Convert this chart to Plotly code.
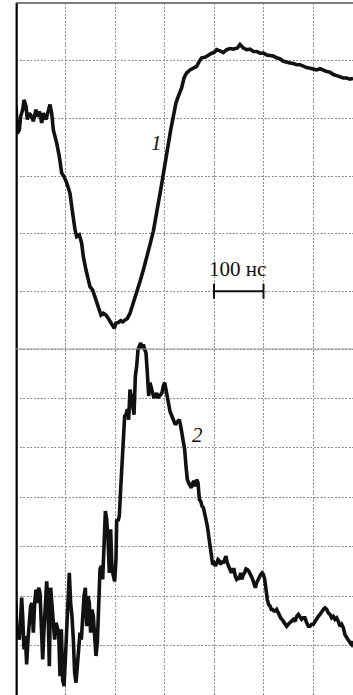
import plotly.graph_objects as go

# Time axis in ns; vertical values in screen divisions
t1 = [0, 2.7, 6.7, 9.4, 13.5, 16.2, 20.2, 22.9, 26.9, 31.6, 35.0, 40.4, 43.1, 47.1, 51.9, 55.2,
      60.6, 65.3, 68.7, 72.1, 75.4, 82.2, 87.5, 92.3, 97.0, 102.4, 105.7, 109.1, 112.5, 115.8,
      119.2, 122.6, 127.9, 132.7, 136.0, 141.4, 146.1, 149.5, 154.9, 159.6, 163.0, 167.7, 171.7,
      176.4, 181.8, 186.5, 191.2, 195.3, 198.7, 202.0, 206.7, 211.4, 215.5, 220.2, 224.9, 230.3,
      235.7, 240.4, 245.1, 250.5, 257.2, 264.0, 270.7, 277.4, 282.8, 287.5, 292.3, 297.6, 302.4,
      307.7, 312.5, 317.8, 323.2, 327.9, 334.7, 339.4, 344.8, 351.5, 359.6, 365.0, 370.4, 375.1,
      381.8, 388.6, 395.3, 400.0, 405.4, 412.1, 418.8, 425.6, 432.3, 439.1, 447.1, 452.5, 459.3,
      466.0, 472.7, 479.5, 486.2, 492.9, 499.7, 506.4, 513.1, 519.9, 526.6, 533.3, 540.1, 546.8,
      553.6, 560.3, 567.0, 573.8, 580.5, 587.2, 594.0, 600.7, 607.5, 614.2, 620.9, 627.7, 634.4,
      641.1, 647.9, 654.6, 661.3, 668.1, 674.8, 680.8]
v1 = [4.21, 3.74, 3.80, 4.03, 4.15, 4.32, 4.21, 3.98, 4.09, 4.03, 3.95, 4.15, 4.03, 4.12, 3.92, 4.09,
      3.98, 4.15, 4.24, 4.09, 3.80, 3.57, 3.34, 3.05, 2.99, 2.88, 2.76, 2.70, 2.47, 2.24,
      2.07, 1.95, 1.98, 1.83, 1.60, 1.37, 1.20, 1.08, 1.02, 0.91, 0.79, 0.68, 0.59,
      0.62, 0.59, 0.53, 0.47, 0.42, 0.36, 0.45, 0.46, 0.49, 0.47, 0.50, 0.53, 0.62,
      0.76, 0.88, 1.02, 1.17, 1.37, 1.57, 1.81, 2.04, 2.27, 2.53, 2.76, 3.05, 3.34,
      3.57, 3.80, 4.03, 4.27, 4.38, 4.53, 4.70, 4.79, 4.84, 4.87, 4.90, 4.99, 5.05,
      5.06, 5.10, 5.13, 5.14, 5.19, 5.17, 5.14, 5.19, 5.21, 5.20, 5.22, 5.28, 5.22,
      5.19, 5.20, 5.16, 5.16, 5.13, 5.13, 5.10, 5.09, 5.08, 5.05, 5.03, 4.99, 4.97,
      4.96, 4.95, 4.93, 4.93, 4.90, 4.88, 4.87, 4.86, 4.84, 4.86, 4.83, 4.81, 4.80,
      4.76, 4.74, 4.72, 4.70, 4.70, 4.68, 4.69]

t2 = [0, 1.3, 4.7, 6.7, 9.4, 11.4, 13.5, 16.2, 18.9, 21.5, 24.2, 26.9, 29.6, 32.3, 35.0, 37.7,
      40.4, 43.1, 45.8, 48.5, 51.2, 53.9, 56.6, 59.3, 62.0, 64.6, 67.3, 70.0, 72.7, 75.4, 78.1,
      80.8, 83.5, 86.2, 88.9, 91.6, 94.3, 97.0, 99.7, 102.4, 105.1, 107.7, 110.4, 113.1, 115.8,
      118.5, 121.2, 123.9, 126.6, 129.3, 132.0, 134.7, 137.4, 140.1, 142.8, 145.5, 148.1, 150.8,
      153.5, 156.2, 158.9, 161.6, 164.3, 167.0, 169.7, 172.4, 175.1, 177.8, 180.5, 183.2, 185.9,
      188.6, 191.2, 193.9, 196.6, 199.3, 202.0, 203.4, 206.1, 208.7, 211.4, 214.1, 216.8, 219.5,
      222.2, 224.9, 227.6, 230.3, 233.0, 235.7, 238.4, 241.1, 243.8, 246.5, 249.2, 251.9, 254.5,
      257.2, 259.9, 262.6, 265.3, 268.0, 270.7, 273.4, 276.1, 278.8, 281.5, 284.2, 286.9, 289.6,
      292.3, 294.9, 297.6, 300.3, 303.0, 305.7, 308.4, 311.1, 313.8, 316.5, 319.2, 321.9, 324.6,
      327.3, 330.0, 332.7, 335.3, 338.0, 340.7, 343.4, 346.1, 348.8, 351.5, 354.2, 356.9, 359.6,
      362.3, 365.0, 367.7, 370.4, 373.1, 375.8, 378.5, 381.2, 383.8, 386.5, 389.2, 391.9, 394.6,
      397.3, 400.0, 402.7, 405.4, 408.1, 410.8, 413.5, 416.2, 418.9, 421.5, 424.2, 426.9, 429.6,
      432.3, 435.0, 437.7, 440.4, 443.1, 445.8, 448.5, 451.2, 453.9, 456.6, 459.3, 461.9, 464.6,
      467.3, 470.0, 472.7, 475.4, 478.1, 480.8, 483.5, 486.2, 488.9, 491.6, 494.3, 497.0, 499.7,
      502.4, 505.1, 507.7, 510.4, 513.1, 515.8, 518.5, 521.2, 523.9, 526.6, 529.3, 532.0, 534.7,
      537.4, 540.1, 543.4, 546.8, 550.2, 553.5, 556.9, 560.3, 563.6, 567.0, 570.4, 573.7, 577.1,
      580.5, 583.8, 587.2, 590.6, 593.9, 597.3, 600.7, 604.0, 607.4, 610.8, 614.1, 617.5, 620.9,
      624.2, 627.6, 631.0, 634.3, 637.7, 641.1, 644.4, 647.8, 651.2, 654.5, 657.9, 661.3, 664.6,
      668.0, 671.4, 674.7, 678.1, 680.8]
v2 = [1.86, 1.33, 1.26, 1.12, 1.53, 1.97, 1.59, 0.92, 1.19, 0.62, 1.12, 1.59, 1.80, 1.86, 1.26, 1.86,
      2.13, 1.86, 2.17, 2.07, 1.26, 0.72, 1.33, 1.93, 2.30, 1.80, 0.58, 2.17, 1.73, 1.53, 1.12,
      1.46, 1.33, 1.26, 0.38, 1.33, 0.31, 0.18, 0.72, 1.39, 1.66, 2.47, 1.86, 1.59, 1.12,
      0.45, 0.25, 0.65, 1.06, 1.26, 1.12, 1.66, 2.00, 2.17, 1.39, 2.00, 1.86, 1.26,
      1.73, 1.59, 1.12, 0.79, 1.06, 1.80, 2.54, 2.61, 2.34, 3.01, 3.72, 3.55, 3.15,
      2.47, 3.35, 2.54, 2.40, 2.30, 2.74, 3.55, 3.52, 3.62, 4.16, 4.76, 5.24, 5.64,
      5.67, 5.78, 5.57, 6.18, 6.05, 5.78, 5.67, 6.45, 6.65, 6.99, 7.06, 7.12, 7.02,
      7.09, 6.99, 6.92, 6.52, 6.05, 6.32, 6.18, 6.11, 6.01, 6.05, 6.11, 6.01, 6.05,
      6.08, 6.11, 6.25, 6.32, 6.18, 6.01, 5.84, 5.74, 5.67, 5.61, 5.57, 5.47, 5.51,
      5.54, 5.57, 5.44, 5.30, 5.17, 4.97, 4.63, 4.36, 4.29, 4.22, 4.19, 4.29, 4.33,
      4.22, 4.36, 4.29, 3.96, 3.92, 3.82, 3.79, 3.69, 3.55, 3.42, 3.21, 3.04, 2.88,
      2.64, 2.67, 2.61, 2.67, 2.74, 2.71, 2.64, 2.71, 2.67, 2.74, 2.81, 2.67, 2.61,
      2.57, 2.47, 2.54, 2.54, 2.40, 2.34, 2.37, 2.34, 2.47, 2.34, 2.44, 2.47, 2.55,
      2.54, 2.51, 2.47, 2.40, 2.34, 2.27, 2.17, 2.27, 2.34, 2.40, 2.44, 2.47, 2.44,
      2.34, 2.07, 1.93, 1.83, 1.80, 1.73, 1.73, 1.70, 1.70, 1.73, 1.66, 1.59, 1.56,
      1.53, 1.49, 1.43, 1.39, 1.43, 1.47, 1.49, 1.53, 1.49, 1.59, 1.63, 1.56, 1.53,
      1.56, 1.56, 1.46, 1.39, 1.39, 1.43, 1.43, 1.49, 1.56, 1.59, 1.63, 1.70, 1.73,
      1.76, 1.73, 1.66, 1.63, 1.56, 1.59, 1.53, 1.56, 1.49, 1.39, 1.43, 1.36, 1.22,
      1.16, 1.12, 1.06, 1.02, 1.09]

# Scale bar and trace labels
bar_start = 400
bar_len = 100
bar_label = "100 нс"
label1 = ("1", 283, 3.58)
label2 = ("2", 366, 5.27)

T_MAX = 680.8
UPPER_DIVS = 6
LOWER_DIVS = 7
LOWER_TOP = 7.2  # lets the pulse peak rise slightly above the divider

serif = "Liberation Serif, Times New Roman, serif"
grid = dict(showgrid=True, gridcolor="#8f8f8f", gridwidth=1, griddash="2px,1.5px",
            zeroline=False, showticklabels=False, ticks="", showline=False)

fig = go.Figure()
fig.add_trace(go.Scatter(x=t1, y=v1, mode="lines", xaxis="x2", yaxis="y2",
                         line=dict(color="#111", width=3.6), showlegend=False))
fig.add_trace(go.Scatter(x=t2, y=v2, mode="lines", xaxis="x", yaxis="y",
                         line=dict(color="#111", width=3.6), showlegend=False))

fig.update_layout(
    width=353, height=695,
    margin=dict(l=16, r=0, t=3, b=0),
    paper_bgcolor="white", plot_bgcolor="rgba(0,0,0,0)",
    xaxis=dict(range=[0, T_MAX], dtick=100, tick0=0, anchor="y", **grid),
    xaxis2=dict(range=[0, T_MAX], dtick=100, tick0=0, anchor="y2", matches="x", **grid),
    yaxis=dict(range=[0, LOWER_TOP], dtick=1, tick0=0, anchor="x",
               domain=[0, 0.5 * LOWER_TOP / LOWER_DIVS], **grid),
    yaxis2=dict(range=[0, UPPER_DIVS], dtick=1, tick0=0, anchor="x2",
                domain=[0.5, 1], **grid),
)

shapes = [
    # frame: left edge, top edge, divider between the two screens
    dict(type="line", xref="paper", yref="paper", x0=0.002, x1=0.002, y0=0, y1=1,
         line=dict(color="#000", width=2.2)),
    dict(type="line", xref="paper", yref="paper", x0=0, x1=1, y0=1, y1=1,
         line=dict(color="#555", width=1.6)),
    dict(type="line", xref="paper", yref="paper", x0=0, x1=1, y0=0.5, y1=0.5,
         line=dict(color="#9a9a9a", width=1.2)),
    # 100 ns scale bar
    dict(type="line", xref="x2", yref="y2", x0=bar_start, x1=bar_start + bar_len, y0=1, y1=1,
         line=dict(color="#111", width=2)),
    dict(type="line", xref="x2", yref="y2", x0=bar_start, x1=bar_start, y0=0.87, y1=1.13,
         line=dict(color="#111", width=2)),
    dict(type="line", xref="x2", yref="y2", x0=bar_start + bar_len, x1=bar_start + bar_len,
         y0=0.87, y1=1.13, line=dict(color="#111", width=2)),
]
fig.update_layout(shapes=shapes)

fig.add_annotation(x=bar_start + bar_len / 2 - 3, y=1.15, xref="x2", yref="y2", text=bar_label,
                   showarrow=False, yanchor="bottom", font=dict(family=serif, size=21, color="#111"))
fig.add_annotation(x=label1[1], y=label1[2], xref="x2", yref="y2", text="<i>%s</i>" % label1[0],
                   showarrow=False, font=dict(family=serif, size=21, color="#111"))
fig.add_annotation(x=label2[1], y=label2[2], xref="x", yref="y", text="<i>%s</i>" % label2[0],
                   showarrow=False, font=dict(family=serif, size=21, color="#111"))

fig.write_html("out.html")
